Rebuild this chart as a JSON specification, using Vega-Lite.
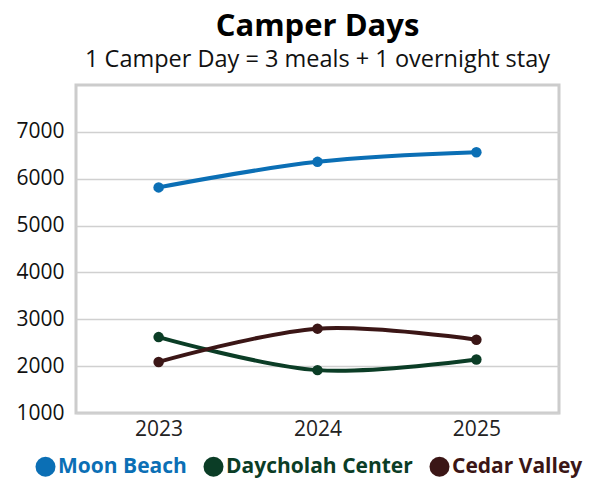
{
  "$schema": "https://vega.github.io/schema/vega-lite/v6.json",
  "width": 483,
  "height": 328,
  "autosize": {"type": "none"},
  "padding": {"left": 76, "top": 85, "right": 38, "bottom": 65},
  "background": "white",
  "config": {
    "font": "Open Sans",
    "view": {"stroke": "#cccccc", "strokeWidth": 3}
  },
  "title": {
    "text": "Camper Days",
    "subtitle": "1 Camper Day = 3 meals + 1 overnight stay",
    "fontSize": 31,
    "fontWeight": "bold",
    "color": "#000000",
    "subtitleFontSize": 23.5,
    "subtitleColor": "#111111",
    "subtitlePadding": 5,
    "anchor": "middle",
    "offset": 13
  },
  "data": {
    "values": [
      {"year": "2023", "site": "Moon Beach", "days": 5815},
      {"year": "2024", "site": "Moon Beach", "days": 6360},
      {"year": "2025", "site": "Moon Beach", "days": 6565},
      {"year": "2023", "site": "Daycholah Center", "days": 2620},
      {"year": "2024", "site": "Daycholah Center", "days": 1915},
      {"year": "2025", "site": "Daycholah Center", "days": 2140},
      {"year": "2023", "site": "Cedar Valley", "days": 2090},
      {"year": "2024", "site": "Cedar Valley", "days": 2800},
      {"year": "2025", "site": "Cedar Valley", "days": 2565}
    ]
  },
  "encoding": {
    "x": {
      "field": "year",
      "type": "ordinal",
      "scale": {"type": "point", "padding": 0.52},
      "axis": {
        "title": null,
        "labelAngle": 0,
        "labelFontSize": 21,
        "labelColor": "#222222",
        "domain": false,
        "ticks": false,
        "labelPadding": 5
      }
    },
    "y": {
      "field": "days",
      "type": "quantitative",
      "scale": {"domain": [1000, 8000], "nice": false},
      "axis": {
        "title": null,
        "values": [1000, 2000, 3000, 4000, 5000, 6000, 7000],
        "format": "d",
        "labelFontSize": 21,
        "labelColor": "#111111",
        "domain": false,
        "ticks": false,
        "labelPadding": 12,
        "gridColor": "#d0d0d0",
        "gridWidth": 1.5
      }
    },
    "color": {
      "field": "site",
      "type": "nominal",
      "scale": {
        "domain": ["Moon Beach", "Daycholah Center", "Cedar Valley"],
        "range": ["#0b6fb5", "#0b3d26", "#3b1616"]
      },
      "legend": {
        "title": null,
        "orient": "none",
        "legendX": -41,
        "legendY": 371,
        "direction": "horizontal",
        "symbolType": "circle",
        "symbolSize": 400,
        "symbolStrokeWidth": 0,
        "labelFontSize": 21,
        "labelFontWeight": "bold",
        "labelOffset": 2,
        "columnPadding": 16,
        "labelLimit": 300,
        "encode": {
          "labels": {"update": {"fill": {"scale": "color", "field": "value"}}},
          "symbols": {"update": {"fill": {"scale": "color", "field": "value"}, "fillOpacity": {"value": 1}}}
        }
      }
    }
  },
  "layer": [
    {"mark": {"type": "line", "strokeWidth": 4, "interpolate": "catmull-rom"}},
    {"mark": {"type": "point", "filled": true, "size": 110, "opacity": 1}}
  ]
}
